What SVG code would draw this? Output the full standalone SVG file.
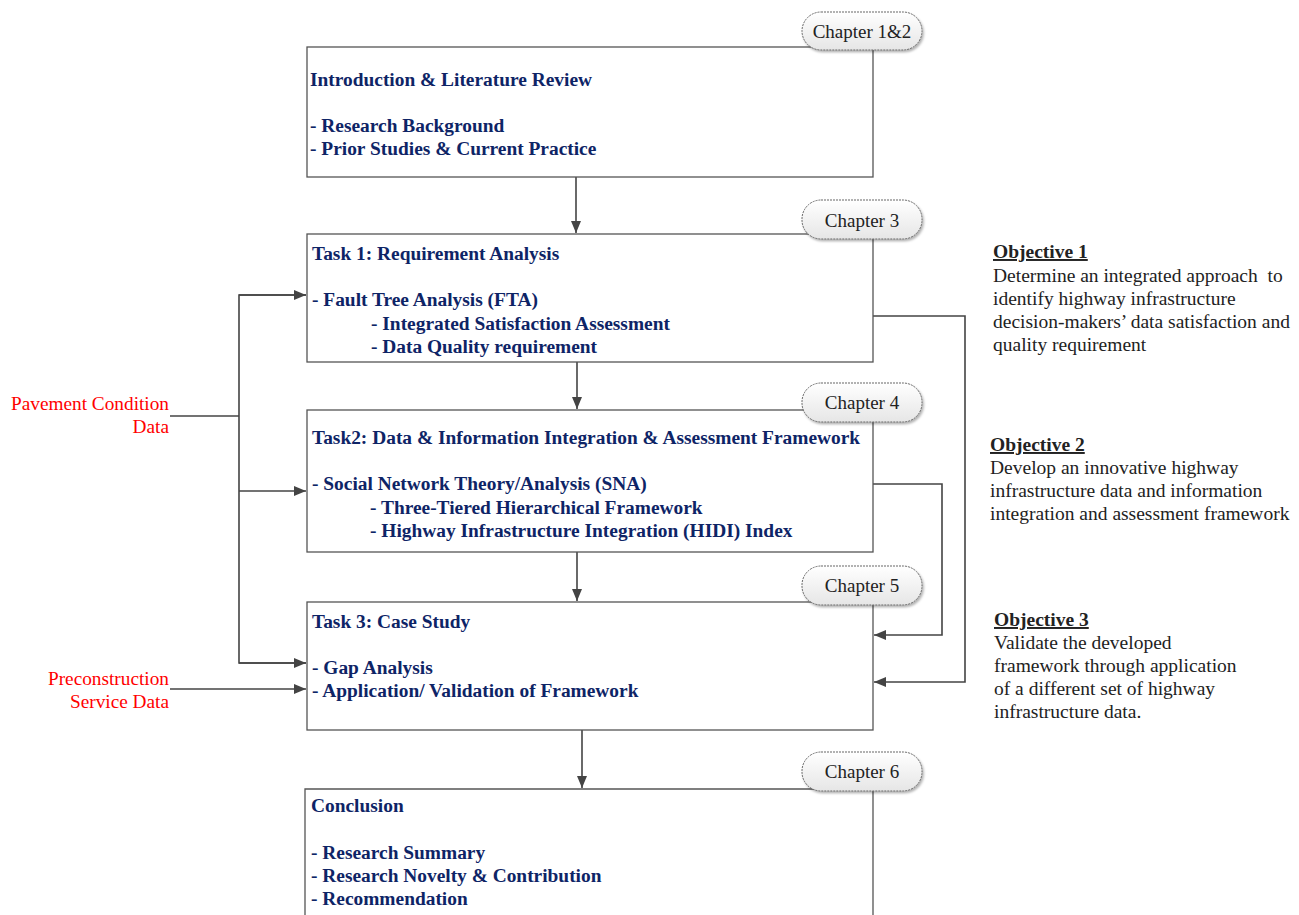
<svg xmlns="http://www.w3.org/2000/svg" width="1299" height="915" viewBox="0 0 1299 915">
<style>
.box{fill:#fff;stroke:#555;stroke-width:1.3}
.t{font-family:"Liberation Serif",serif;font-weight:bold;font-size:19.4px;fill:#0e2466}
.ch{font-family:"Liberation Serif",serif;font-size:19px;fill:#222;text-anchor:middle}
.pill{fill:url(#pg);stroke:#666;stroke-width:1;stroke-dasharray:2 1}
.ob{font-family:"Liberation Serif",serif;font-size:19.5px;fill:#222}
.obh{font-weight:bold;text-decoration:underline}
.red{font-family:"Liberation Serif",serif;font-size:19.3px;fill:#f00;text-anchor:end}
.c{fill:none;stroke:#444;stroke-width:1.6}
</style>
<defs>
<linearGradient id="pg" x1="0" y1="0" x2="0" y2="1">
<stop offset="0" stop-color="#ffffff"/>
<stop offset="1" stop-color="#e6e6e6"/>
</linearGradient>
<filter id="sh" x="-10%" y="-20%" width="130%" height="160%">
<feDropShadow dx="1.5" dy="2" stdDeviation="1.2" flood-color="#000" flood-opacity="0.3"/>
</filter>
<marker id="ah" markerWidth="12" markerHeight="10" refX="12" refY="5" orient="auto" markerUnits="userSpaceOnUse">
<path d="M0,0 L12,5 L0,10 Z" fill="#444"/>
</marker>
</defs>

<g id="connectors">
<line class="c" x1="576" y1="177" x2="576" y2="233" marker-end="url(#ah)"/>
<line class="c" x1="577" y1="362" x2="577" y2="409" marker-end="url(#ah)"/>
<line class="c" x1="577" y1="552" x2="577" y2="601" marker-end="url(#ah)"/>
<line class="c" x1="582" y1="730" x2="582" y2="788" marker-end="url(#ah)"/>
<line class="c" x1="170" y1="416" x2="239" y2="416"/>
<polyline class="c" points="306,295 239,295 239,663 306,663"/>
<line class="c" x1="239" y1="295" x2="306" y2="295" marker-end="url(#ah)"/>
<line class="c" x1="239" y1="491" x2="306" y2="491" marker-end="url(#ah)"/>
<line class="c" x1="239" y1="663" x2="306" y2="663" marker-end="url(#ah)"/>
<line class="c" x1="170" y1="689" x2="306" y2="689" marker-end="url(#ah)"/>
<polyline class="c" points="873,316 965,316 965,682 874,682" marker-end="url(#ah)"/>
<polyline class="c" points="873,484 942,484 942,635 874,635" marker-end="url(#ah)"/>
</g>

<g id="node-ch12">
<rect x="307" y="47" width="566" height="130" class="box"/>
<text class="t" x="310" y="86">Introduction &amp; Literature Review</text>
<text class="t" x="310" y="132">- Research Background</text>
<text class="t" x="310" y="155">- Prior Studies &amp; Current Practice</text>
<rect x="802" y="12" width="120" height="38" rx="19" class="pill" filter="url(#sh)"/>
<text class="ch" x="862" y="38">Chapter 1&amp;2</text>
</g>

<g id="node-ch3">
<rect x="307" y="234" width="566" height="128" class="box"/>
<text class="t" x="312" y="260">Task 1: Requirement Analysis</text>
<text class="t" x="312" y="306">- Fault Tree Analysis (FTA)</text>
<text class="t" x="371" y="330">- Integrated Satisfaction Assessment</text>
<text class="t" x="371" y="353">- Data Quality requirement</text>
<rect x="802" y="200" width="120" height="39" rx="19" class="pill" filter="url(#sh)"/>
<text class="ch" x="862" y="227">Chapter 3</text>
</g>

<g id="node-ch4">
<rect x="307" y="410" width="566" height="142" class="box"/>
<text class="t" x="312" y="444">Task2: Data &amp; Information Integration &amp; Assessment Framework</text>
<text class="t" x="312" y="490">- Social Network Theory/Analysis (SNA)</text>
<text class="t" x="370" y="514">- Three-Tiered Hierarchical Framework</text>
<text class="t" x="370" y="537">- Highway Infrastructure Integration (HIDI) Index</text>
<rect x="802" y="383" width="120" height="39" rx="19" class="pill" filter="url(#sh)"/>
<text class="ch" x="862" y="409">Chapter 4</text>
</g>

<g id="node-ch5">
<rect x="307" y="602" width="566" height="128" class="box"/>
<text class="t" x="312" y="628">Task 3: Case Study</text>
<text class="t" x="312" y="674">- Gap Analysis</text>
<text class="t" x="312" y="697">- Application/ Validation of Framework</text>
<rect x="802" y="566" width="120" height="39" rx="19" class="pill" filter="url(#sh)"/>
<text class="ch" x="862" y="592">Chapter 5</text>
</g>

<g id="node-ch6">
<path d="M305,925 L305,789 L873,789 L873,925" class="box"/>
<text class="t" x="311" y="812">Conclusion</text>
<text class="t" x="311" y="859">- Research Summary</text>
<text class="t" x="311" y="882">- Research Novelty &amp; Contribution</text>
<text class="t" x="311" y="905">- Recommendation</text>
<rect x="802" y="752" width="120" height="39" rx="19" class="pill" filter="url(#sh)"/>
<text class="ch" x="862" y="778">Chapter 6</text>
</g>

<g id="obj1">
<text class="ob obh" x="993" y="258">Objective 1</text>
<text class="ob" x="993" y="282" xml:space="preserve">Determine an integrated approach  to</text>
<text class="ob" x="993" y="305">identify highway infrastructure</text>
<text class="ob" x="993" y="328">decision-makers’ data satisfaction and</text>
<text class="ob" x="993" y="351">quality requirement</text>
</g>

<g id="obj2">
<text class="ob obh" x="990" y="451">Objective 2</text>
<text class="ob" x="990" y="474">Develop an innovative highway</text>
<text class="ob" x="990" y="497">infrastructure data and information</text>
<text class="ob" x="990" y="520">integration and assessment framework</text>
</g>

<g id="obj3">
<text class="ob obh" x="994" y="626">Objective 3</text>
<text class="ob" x="994" y="649">Validate the developed</text>
<text class="ob" x="994" y="672">framework through application</text>
<text class="ob" x="994" y="695">of a different set of highway</text>
<text class="ob" x="994" y="718">infrastructure data.</text>
</g>

<g id="input-pavement">
<text class="red" x="169" y="410">Pavement Condition</text>
<text class="red" x="169" y="433">Data</text>
</g>
<g id="input-precon">
<text class="red" x="169" y="685">Preconstruction</text>
<text class="red" x="169" y="708">Service Data</text>
</g>
</svg>
